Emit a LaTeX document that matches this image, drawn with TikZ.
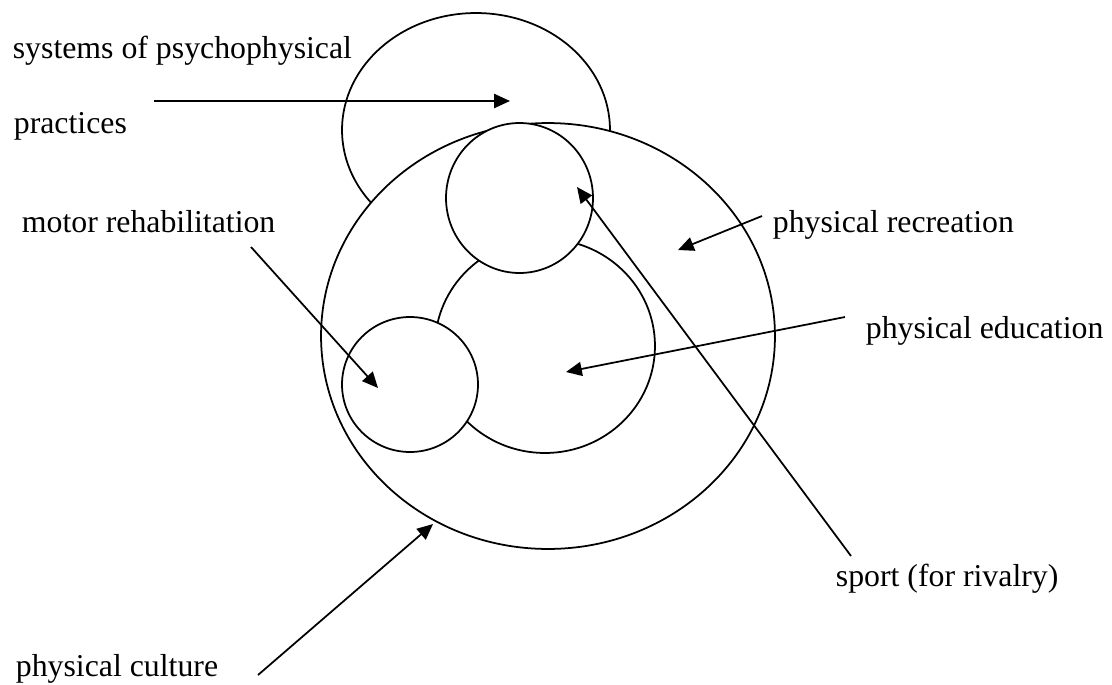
\documentclass[tikz,border=0pt]{standalone}
\usepackage{fontspec}
\setmainfont{Liberation Serif}
\usetikzlibrary{arrows.meta,shapes.geometric}

\begin{document}
\begin{tikzpicture}[x=0.02cm,y=-0.02cm,>={Triangle[length=9pt,width=8pt]},line width=1pt,
    ring/.style={draw,ellipse,fill=white,inner sep=0pt},
    txt/.style={anchor=base west,inner sep=0pt,font=\fontsize{18.1}{21}\selectfont}]

            \useasboundingbox (0,0) rectangle (1112,684);

            % circles, back to front
            \node[ring,minimum width=5.36cm,minimum height=4.68cm] (psy) at (476,130) {};

            \node[ring,minimum width=9.08cm,minimum height=8.52cm] (cult) at (548,336) {};

            \node[ring,minimum width=4.4cm,minimum height=4.28cm] (edu) at (545,346) {};

            \node[ring,minimum width=2.94cm,minimum height=3cm] (spo) at (519.5,198) {};

            \node[ring,minimum width=2.72cm,minimum height=2.7cm] (mot) at (410,384.5) {};

            % labels
            \node[txt] (tpsy) at (12,58) {systems of psychophysical};

            \node[txt] (tpra) at (13,133) {practices};

            \node[txt] (tmot) at (21,232) {motor rehabilitation};

            \node[txt] (trec) at (772,232) {physical recreation};

            \node[txt] (tedu) at (865,338) {physical education};

            \node[txt] (tspo) at (835,586) {sport (for rivalry)};

            \node[txt] (tcul) at (15,676) {physical culture};

            % arrow ends
            \coordinate (a1) at (154,101);  \coordinate (b1) at (510,101);
            \coordinate (a2) at (251,247);  \coordinate (b2) at (378,388);
            \coordinate (a3) at (762,216);  \coordinate (b3) at (678,250);
            \coordinate (a4) at (845,317);  \coordinate (b4) at (566,372);
            \coordinate (a5) at (851,556);  \coordinate (b5) at (577,187);
            \coordinate (a6) at (258,675);  \coordinate (b6) at (433,524);

            \draw[->] (a1) -- (b1);
            \draw[->] (a2) -- (b2);
            \draw[->] (a3) -- (b3);
            \draw[->] (a4) -- (b4);
            \draw[->] (a5) -- (b5);
            \draw[->] (a6) -- (b6);

        \end{tikzpicture}
\end{document}
